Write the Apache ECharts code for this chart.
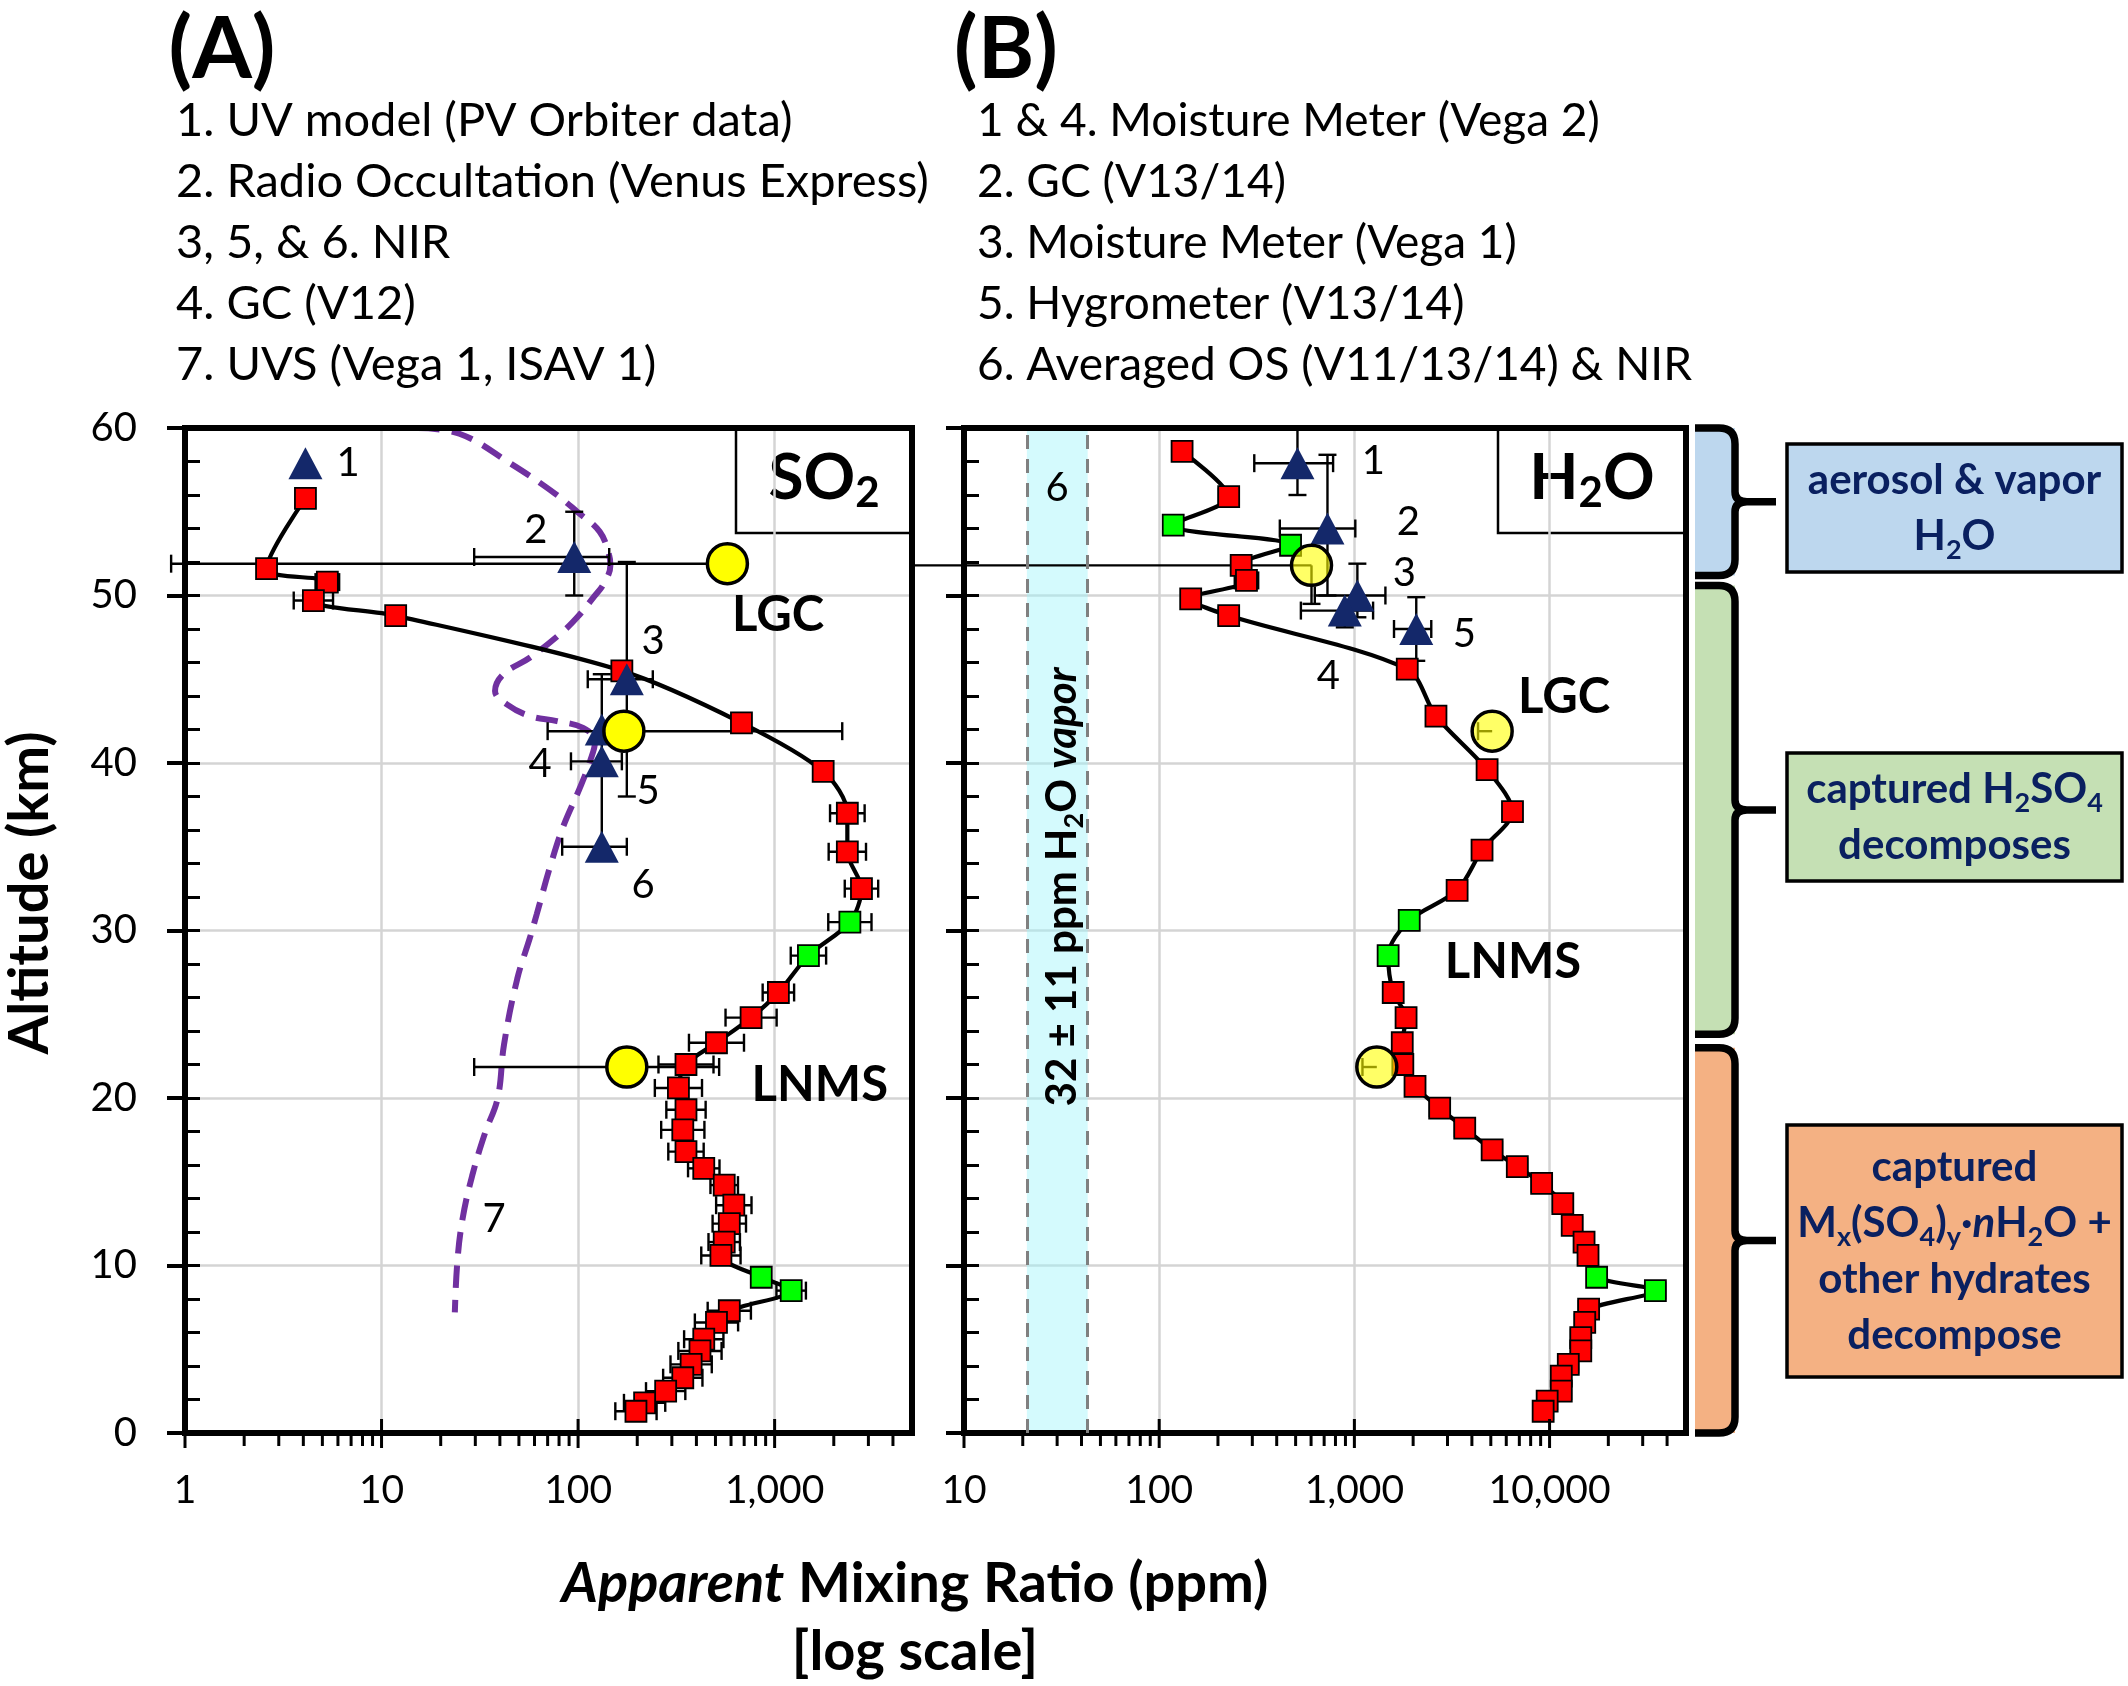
<!DOCTYPE html>
<html>
<head>
<meta charset="utf-8">
<script src="https://cdn.jsdelivr.net/npm/echarts@6.0.0/dist/echarts.min.js"></script>
<style>
html,body{margin:0;padding:0;background:#ffffff;}
#chart{width:2128px;height:1686px;}
</style>
</head>
<body>
<div id="chart"></div>
<script>
// ================= DATA =================
// Panel A : SO2 apparent mixing ratio (ppm) vs altitude (km)
const so2Alt = [55.8, 51.6, 50.8, 49.7, 48.8, 45.5, 42.4, 39.5, 37.0, 34.7,
                32.5, 30.5, 28.5, 26.3, 24.8, 23.3, 22.0, 20.6, 19.3, 18.1,
                16.8, 15.8, 14.8, 13.6, 12.5, 11.4, 10.6, 9.3, 8.5, 7.3,
                6.6, 5.6, 4.9, 4.1, 3.3, 2.5, 1.8, 1.3];
const so2Ppm = [4.1, 2.6, 5.3, 4.5, 11.8, 167, 678, 1766, 2344, 2344,
                2766, 2415, 1486, 1045, 759, 506, 354, 324, 354, 341,
                354, 436, 554, 620, 588, 554, 533, 855, 1214, 588,
                506, 436, 417, 376, 341, 279, 218, 197];
// error bar half-width (decades)
const so2Err = [0, 0, 0.06, 0.1, 0.03, 0.04, 0.03, 0.03, 0.088, 0.095,
                0.085, 0.11, 0.09, 0.08, 0.13, 0.14, 0.14, 0.12, 0.1, 0.11,
                0.09, 0.08, 0.07, 0.09, 0.085, 0.08, 0.1, 0.04, 0.075, 0.11,
                0.11, 0.1, 0.11, 0.105, 0.1, 0.1, 0.105, 0.105];
const so2Green = [11, 12, 27, 28];

// Panel A : other measurements (blue triangles, labelled 1-6)
const so2TriPpm = [4.1, 95.6, 177, 132, 132, 132];
const so2TriAlt = [57.9, 52.3, 45.0, 42.0, 40.1, 35.0];
const so2TriXlo = [null, 29.6, 112, null, 92, 83];
const so2TriXhi = [null, 144, 240, null, 167, 177];
const so2TriYlo = [null, 50, 38, null, null, 35];
const so2TriYhi = [null, 55, 52, null, null, 45.3];

// Panel A : LGC / LNMS yellow circles
const so2CirPpm = [575, 171, 177];
const so2CirAlt = [51.9, 41.9, 21.85];
const so2CirXlo = [0.85, 70, 29.6];
const so2CirXhi = [575, 2208, 522];

// Panel A : UVS (Vega 1, ISAV 1) profile, curve 7
const so2UvsPpm = [15.3, 24.9, 45, 76, 99, 129, 144, 146, 135, 120, 99, 81, 57, 41.7, 37.8, 43.4, 57, 78, 106, 122, 115, 102, 84, 72, 61.7, 57, 49, 42, 39, 33.6, 28.9, 25.8, 24.3, 23.6];
const so2UvsAlt = [60, 59.66, 57.9, 56.1, 55.0, 53.8, 52.4, 51.8, 50.7, 49.9, 48.7, 47.7, 46.3, 45.3, 44.3, 43.5, 42.8, 42.5, 42.1, 41.3, 40.1, 38.5, 36.2, 33.8, 31.0, 29.6, 27.1, 23.2, 20, 17.9, 15.35, 12.74, 10.2, 7.2];

// Panel A labels
const so2LabTxt = ['1', '2', '3', '4', '5', '6', '7'];
const so2LabPpm = [6.75, 61, 241, 64, 227, 214, 37.4];
const so2LabAlt = [57.9, 53.9, 47.3, 39.95, 38.3, 32.7, 12.75];
const so2BoldTxt = ['LGC', 'LNMS'];
const so2BoldPpm = [1042, 1698];
const so2BoldAlt = [48.8, 20.75];

// Panel B : H2O
const h2oAlt = [58.6, 55.9, 54.2, 53.0, 51.8, 50.9, 49.8, 48.8, 45.6, 42.8,
                39.6, 37.1, 34.8, 32.4, 30.6, 28.5, 26.3, 24.8, 23.3, 22.0,
                20.7, 19.4, 18.2, 16.9, 15.9, 14.9, 13.7, 12.4, 11.4, 10.6,
                9.3, 8.5, 7.4, 6.6, 5.7, 4.9, 4.1, 3.4, 2.5, 1.9, 1.3];
const h2oPpm = [131, 227, 118, 471, 263, 280, 145, 227, 1866, 2618,
                4786, 6457, 4508, 3360, 1910, 1489, 1581, 1840, 1759, 1771,
                2045, 2735, 3676, 5079, 6834, 9106, 11690, 13060, 15020, 15740,
                17420, 34840, 15850, 15140, 14450, 14450, 12470, 11480, 11480, 9720, 9270];
const h2oErr = [0.03, 0.05, 0.03, 0.03, 0.03, 0.06, 0.03, 0.05, 0.03, 0.03,
                0.03, 0.04, 0.04, 0.03, 0.03, 0.03, 0.04, 0.04, 0.04, 0.04,
                0.05, 0.05, 0.05, 0.05, 0.05, 0.05, 0.05, 0.05, 0.05, 0.05,
                0.03, 0.05, 0.05, 0.05, 0.05, 0.05, 0.05, 0.05, 0.05, 0.05, 0.05];
const h2oGreen = [2, 3, 14, 15, 30, 31];

const h2oTriPpm = [511, 728, 1036, 893, 2075];
const h2oTriAlt = [57.9, 54.0, 50.0, 49.1, 48.0];
const h2oTriXlo = [307, 415, 627, 532, 1596];
const h2oTriXhi = [778, 1011, 1442, 1247, 2477];
const h2oTriYlo = [56.0, 50.0, 48.7, 48.1, 46.1];
const h2oTriYhi = [60, 58.4, 51.9, null, 49.9];

const h2oCirPpm = [603, 5080, 1303];
const h2oCirAlt = [51.8, 41.9, 21.85];
const h2oCirXlo = [5.4, 4300, 1100];
const h2oCirXhi = [603, 5080, 1303];
const h2oCirYlo = [49.5, null, null];

const h2oLabTxt = ['1', '2', '3', '4', '5', '6'];
const h2oLabPpm = [1251, 1888, 1803, 736, 3656, 30];
const h2oLabAlt = [58.0, 54.4, 51.35, 45.2, 47.7, 56.4];
const h2oBoldTxt = ['LGC', 'LNMS'];
const h2oBoldPpm = [11860, 6500];
const h2oBoldAlt = [43.9, 28.1];

// averaged vapor band (32 ± 11 ppm)
const vaporMean = 32, vaporSd = 11;
const vaporLabelAlt = 32.6;

// brace ranges (km)
const braceLo = [51.2, 23.8, 0];
const braceHi = [60, 50.6, 23.0];

const listA = ['1. UV model (PV Orbiter data)', '2. Radio Occultation (Venus Express)', '3, 5, & 6. NIR', '4. GC (V12)', '7. UVS (Vega 1, ISAV 1)'];
const listB = ['1 & 4. Moisture Meter (Vega 2)', '2. GC (V13/14)', '3. Moisture Meter (Vega 1)', '5. Hygrometer (V13/14)', '6. Averaged OS (V11/13/14) & NIR'];

// ================= STYLE / HELPERS =================
const FONT = 'Lato';
const RED = '#ff0000', GREEN = '#00ff00', NAVY = '#14286a', YELLOW = '#ffff00', PURPLE = '#7030a0';
const GRIDC = '#d4d4d4';
const braceColors = ['#bdd7ee', '#c5e0b4', '#f4b183'];

function xTicks(min, max) {
  const t = [];
  for (let d = min; d < max; d *= 10) {
    t.push([d, 0, 1]);
    for (let k = 2; k <= 9; k++) if (k * d < max) t.push([k * d, 0, 0]);
  }
  return t;
}

function errChildren(api, x, y, xlo, xhi, ylo, yhi) {
  const ch = [];
  const st = {stroke: '#000', lineWidth: 2.4};
  const cap = 9;
  if (xlo != null && xhi != null && (xlo !== x || xhi !== x)) {
    const a = api.coord([xlo, y]), b = api.coord([xhi, y]);
    ch.push({type: 'line', shape: {x1: a[0], y1: a[1], x2: b[0], y2: b[1]}, style: st});
    if (xlo !== x) ch.push({type: 'line', shape: {x1: a[0], y1: a[1] - cap, x2: a[0], y2: a[1] + cap}, style: st});
    if (xhi !== x) ch.push({type: 'line', shape: {x1: b[0], y1: b[1] - cap, x2: b[0], y2: b[1] + cap}, style: st});
  }
  if (ylo != null || yhi != null) {
    const lo = ylo == null ? y : ylo, hi = yhi == null ? y : yhi;
    const a = api.coord([x, lo]), b = api.coord([x, hi]);
    ch.push({type: 'line', shape: {x1: a[0], y1: a[1], x2: b[0], y2: b[1]}, style: st});
    if (ylo != null && ylo !== y) ch.push({type: 'line', shape: {x1: a[0] - cap, y1: a[1], x2: a[0] + cap, y2: a[1]}, style: st});
    if (yhi != null && yhi !== y) ch.push({type: 'line', shape: {x1: b[0] - cap, y1: b[1], x2: b[0] + cap, y2: b[1]}, style: st});
  }
  return ch;
}

function errSeries(xi, yi, xs, ys, xlo, xhi, ylo, yhi, z) {
  return {
    type: 'custom', xAxisIndex: xi, yAxisIndex: yi, z: z || 3, silent: true,
    data: xs.map((v, i) => [v, ys[i]]),
    renderItem: (p, api) => {
      const i = p.dataIndex;
      return {type: 'group', children: errChildren(api, xs[i], ys[i],
        xlo ? xlo[i] : null, xhi ? xhi[i] : null, ylo ? ylo[i] : null, yhi ? yhi[i] : null)};
    }
  };
}

function squareErrSeries(xi, yi, ppm, alt, err) {
  const lo = ppm.map((v, i) => err[i] ? v / Math.pow(10, err[i]) : null);
  const hi = ppm.map((v, i) => err[i] ? v * Math.pow(10, err[i]) : null);
  return errSeries(xi, yi, ppm, alt, lo, hi, null, null, 3);
}

function squareSeries(xi, yi, ppm, alt, green) {
  return {
    type: 'scatter', xAxisIndex: xi, yAxisIndex: yi, z: 4, silent: true,
    symbol: 'rect', symbolSize: 21,
    data: ppm.map((v, i) => ({value: [v, alt[i]], itemStyle: {color: green.indexOf(i) >= 0 ? GREEN : RED}})),
    itemStyle: {borderColor: '#000', borderWidth: 1.8, opacity: 1}
  };
}

function textSeries(xi, yi, xs, ys, texts, font) {
  return {
    type: 'custom', xAxisIndex: xi, yAxisIndex: yi, z: 7, silent: true,
    data: xs.map((v, i) => [v, ys[i]]),
    renderItem: (p, api) => {
      const c = api.coord([api.value(0), api.value(1)]);
      return {type: 'text', x: c[0], y: c[1], style: {text: texts[p.dataIndex], font: font, fill: '#000',
        align: 'center', verticalAlign: 'middle', textAlign: 'center', textVerticalAlign: 'middle'}};
    }
  };
}

function tickSeries(xi, yi, ticks) {
  return {
    type: 'custom', xAxisIndex: xi, yAxisIndex: yi, z: 8, silent: true, data: ticks,
    renderItem: (p, api) => {
      const c = api.coord([api.value(0), 0]);
      const major = api.value(2) === 1;
      return {type: 'line', shape: {x1: c[0], y1: c[1] - (major ? 14 : 0), x2: c[0], y2: c[1] + (major ? 15 : 13)},
        style: {stroke: '#000', lineWidth: 3}};
    }
  };
}

function borderSeries(xi, yi, x0) {
  return {
    type: 'custom', xAxisIndex: xi, yAxisIndex: yi, z: 3, silent: true, data: [[x0, 0]],
    renderItem: (p) => {
      const cs = p.coordSys;
      return {type: 'rect', shape: {x: cs.x, y: cs.y, width: cs.width, height: cs.height},
        style: {fill: 'transparent', stroke: '#000', lineWidth: 6}};
    }
  };
}

function mainLine(xi, yi, ppm, alt) {
  return {type: 'line', xAxisIndex: xi, yAxisIndex: yi, z: 2, silent: true,
    data: ppm.map((v, i) => [v, alt[i]]), smooth: 0.3, symbol: 'none',
    lineStyle: {color: '#000', width: 4.2}};
}

function xFmt(v) {
  const l = Math.log10(v);
  return Math.abs(l - Math.round(l)) < 1e-6 ? Math.round(v).toLocaleString('en-US') : '';
}

function xAxisDef(gi, min, max) {
  return {gridIndex: gi, type: 'log', logBase: 10, min: min, max: max,
    axisLine: {show: true, lineStyle: {color: '#000', width: 6}},
    axisTick: {show: false},
    axisLabel: {formatter: xFmt, margin: 38, fontSize: 39, fontFamily: FONT, color: '#000', showMaxLabel: false},
    splitLine: {show: true, lineStyle: {color: GRIDC, width: 2.5}},
    minorTick: {show: false}, minorSplitLine: {show: false}};
}
function yMajor(gi, showLabel) {
  return {gridIndex: gi, type: 'value', min: 0, max: 60, interval: 10, position: 'left',
    axisLine: {show: true, lineStyle: {color: '#000', width: 6}},
    axisTick: {show: true, inside: false, length: 18, lineStyle: {color: '#000', width: 4}},
    axisLabel: {show: showLabel, margin: 48, fontSize: 40, fontFamily: FONT, color: '#000'},
    splitLine: {show: true, lineStyle: {color: GRIDC, width: 2.5}}};
}
function yMinor(gi) {
  return {gridIndex: gi, type: 'value', min: 0, max: 60, interval: 2, position: 'left', offset: 0,
    axisLine: {show: false},
    axisTick: {show: true, inside: true, length: 15, lineStyle: {color: '#000', width: 3}},
    axisLabel: {show: false}, splitLine: {show: false}};
}

const chart = echarts.init(document.getElementById('chart'), null, {renderer: 'canvas', width: 2128, height: 1686});

const vaporLo = vaporMean - vaporSd, vaporHi = vaporMean + vaporSd;

function triSeries(xi, yi, ppm, alt) {
  return {type: 'scatter', xAxisIndex: xi, yAxisIndex: yi, z: 5, silent: true, symbol: 'triangle', symbolSize: [34, 32],
    data: ppm.map((v, i) => [v, alt[i]]), itemStyle: {color: NAVY, opacity: 1}};
}
function cirSeries(xi, yi, ppm, alt, fill) {
  return {type: 'scatter', xAxisIndex: xi, yAxisIndex: yi, z: 5, silent: true, symbol: 'circle', symbolSize: 40,
    data: ppm.map((v, i) => [v, alt[i]]), itemStyle: {color: fill, borderColor: '#000', borderWidth: 3.5, opacity: 1}};
}

const series = [
  // ---------- Panel A ----------
  {type: 'line', xAxisIndex: 0, yAxisIndex: 0, z: 2, silent: true,
    data: so2UvsPpm.map((v, i) => [v, so2UvsAlt[i]]), smooth: 0.4, symbol: 'none',
    lineStyle: {color: PURPLE, width: 6, type: [22, 12]}},
  borderSeries(0, 0, 1),
  mainLine(0, 0, so2Ppm, so2Alt),
  squareErrSeries(0, 0, so2Ppm, so2Alt, so2Err),
  squareSeries(0, 0, so2Ppm, so2Alt, so2Green),
  errSeries(0, 0, so2TriPpm, so2TriAlt, so2TriXlo, so2TriXhi, so2TriYlo, so2TriYhi, 3),
  errSeries(0, 0, so2CirPpm, so2CirAlt, so2CirXlo, so2CirXhi, null, null, 3),
  triSeries(0, 0, so2TriPpm, so2TriAlt),
  cirSeries(0, 0, so2CirPpm, so2CirAlt, YELLOW),
  textSeries(0, 0, so2LabPpm, so2LabAlt, so2LabTxt, '40px ' + FONT),
  textSeries(0, 0, so2BoldPpm, so2BoldAlt, so2BoldTxt, 'bold 49px ' + FONT),
  tickSeries(0, 0, xTicks(1, 5000)),

  // ---------- Panel B ----------
  {type: 'line', xAxisIndex: 1, yAxisIndex: 2, z: 1, silent: true, data: [], symbol: 'none',
    markArea: {silent: true, itemStyle: {color: 'rgba(160,243,250,0.45)'},
      data: [[{coord: [vaporLo, 0]}, {coord: [vaporHi, 60]}]]},
    markLine: {silent: true, symbol: 'none', label: {show: false},
      lineStyle: {color: '#808080', width: 3, type: [14, 10]},
      data: [{xAxis: vaporLo}, {xAxis: vaporHi}]}},
  borderSeries(1, 2, 10),
  mainLine(1, 2, h2oPpm, h2oAlt),
  squareErrSeries(1, 2, h2oPpm, h2oAlt, h2oErr),
  errSeries(1, 2, h2oTriPpm, h2oTriAlt, h2oTriXlo, h2oTriXhi, h2oTriYlo, h2oTriYhi, 3),
  errSeries(1, 2, h2oCirPpm, h2oCirAlt, h2oCirXlo, h2oCirXhi, h2oCirYlo, null, 3),
  squareSeries(1, 2, h2oPpm, h2oAlt, h2oGreen),
  triSeries(1, 2, h2oTriPpm, h2oTriAlt),
  cirSeries(1, 2, h2oCirPpm, h2oCirAlt, 'rgba(255,255,0,0.6)'),
  textSeries(1, 2, h2oLabPpm, h2oLabAlt, h2oLabTxt, '40px ' + FONT),
  textSeries(1, 2, h2oBoldPpm, h2oBoldAlt, h2oBoldTxt, 'bold 49px ' + FONT),
  tickSeries(1, 2, xTicks(10, 50000)),
  // vertical band label
  {type: 'custom', xAxisIndex: 1, yAxisIndex: 2, z: 7, silent: true, data: [[vaporMean, vaporLabelAlt]],
    renderItem: (p, api) => {
      const c = api.coord([api.value(0), api.value(1)]);
      return {type: 'text', x: c[0], y: c[1], rotation: Math.PI / 2,
        style: {text: vaporMean + ' ± ' + vaporSd + ' ppm H{s|2}O {i|vapor}',
          fontFamily: FONT, fontWeight: 'bold', fontSize: 42, fill: '#000', lineHeight: 50,
          align: 'center', verticalAlign: 'middle',
          rich: {s: {fontFamily: FONT, fontWeight: 'bold', fontSize: 27, fill: '#000', lineHeight: 33, verticalAlign: 'bottom'},
                 i: {fontFamily: FONT, fontWeight: 'bold', fontStyle: 'italic', fontSize: 42, fill: '#000', lineHeight: 50}}}};
    }},
  // braces
  {type: 'custom', xAxisIndex: 1, yAxisIndex: 2, z: 6, silent: true,
    data: braceLo.map((lo, i) => [10, lo, braceHi[i]]),
    renderItem: (p, api) => {
      const cs = p.coordSys;
      const gx = cs.x + cs.width;
      const top = api.coord([10, api.value(2)])[1];
      const bot = api.coord([10, api.value(1)])[1];
      const mid = (top + bot) / 2;
      const x0 = gx + 9, x1 = gx + 49, xt = gx + 90, r = 16;
      return {type: 'group', children: [
        {type: 'rect', shape: {x: x0, y: top, width: x1 - x0, height: bot - top}, style: {fill: braceColors[p.dataIndex]}},
        {type: 'path', shape: {pathData:
          'M' + x0 + ' ' + top + ' L' + (x1 - r) + ' ' + top + ' Q' + x1 + ' ' + top + ' ' + x1 + ' ' + (top + r) +
          ' L' + x1 + ' ' + (mid - 10) + ' Q' + x1 + ' ' + mid + ' ' + (x1 + 12) + ' ' + mid + ' L' + xt + ' ' + mid +
          ' M' + (x1 + 12) + ' ' + mid + ' Q' + x1 + ' ' + mid + ' ' + x1 + ' ' + (mid + 10) +
          ' L' + x1 + ' ' + (bot - r) + ' Q' + x1 + ' ' + bot + ' ' + (x1 - r) + ' ' + bot + ' L' + x0 + ' ' + bot},
          style: {fill: 'transparent', stroke: '#000', lineWidth: 7.5}}
      ]};
    }}
];

function gtext(x, y, text, font) {
  return {type: 'text', silent: true, x: x, y: y,
    style: {text: text, font: font, fill: '#000', align: 'left', verticalAlign: 'middle', textAlign: 'left', textVerticalAlign: 'middle'}};
}

const graphics = [];
graphics.push({type: 'text', silent: true, x: 222, y: 50, style: {text: '(A)', font: 'bold 86px ' + FONT, fill: '#000', align: 'center', verticalAlign: 'middle'}});
graphics.push({type: 'text', silent: true, x: 1006, y: 50, style: {text: '(B)', font: 'bold 86px ' + FONT, fill: '#000', align: 'center', verticalAlign: 'middle'}});
const listY = [121, 182, 243, 304, 365];
listA.forEach((t, i) => graphics.push(gtext(176, listY[i], t, '47px ' + FONT)));
listB.forEach((t, i) => graphics.push(gtext(977, listY[i], t, '46px ' + FONT)));

// axis titles
graphics.push({type: 'text', silent: true, x: 30, y: 893, rotation: Math.PI / 2,
  style: {text: 'Altitude (km)', font: 'bold 56px ' + FONT, fill: '#000', align: 'center', verticalAlign: 'middle'}});
graphics.push({type: 'text', silent: true, x: 915, y: 1584,
  style: {text: '{i|Apparent} Mixing Ratio (ppm)', fontFamily: FONT, fontWeight: 'bold', fontSize: 56, fill: '#000',
    align: 'center', verticalAlign: 'middle',
    rich: {i: {fontFamily: FONT, fontWeight: 'bold', fontStyle: 'italic', fontSize: 56, fill: '#000'}}}});
graphics.push({type: 'text', silent: true, x: 915, y: 1652,
  style: {text: '[log scale]', font: 'bold 56px ' + FONT, fill: '#000', align: 'center', verticalAlign: 'middle'}});

// species boxes
function speciesBox(x, y, w, h, text) {
  return {type: 'group', silent: true, children: [
    {type: 'rect', shape: {x: x, y: y, width: w, height: h}, style: {fill: 'transparent', stroke: '#000', lineWidth: 2.5}},
    {type: 'text', x: x + w / 2, y: y + h / 2 - 2, style: {text: text, fontFamily: FONT, fontWeight: 'bold', fontSize: 64, fill: '#000',
      lineHeight: 72, align: 'center', verticalAlign: 'middle',
      rich: {s: {fontFamily: FONT, fontWeight: 'bold', fontSize: 42, fill: '#000', lineHeight: 48, verticalAlign: 'bottom'}}}}
  ]};
}
graphics.push(speciesBox(736, 428, 176, 105, 'SO{s|2}'));
graphics.push(speciesBox(1498, 428, 188, 105, 'H{s|2}O'));

// description boxes
const NAVYTXT = '#0a2060';
const richBox = {
  s: {fontFamily: FONT, fontWeight: 'bold', fontSize: 27, fill: NAVYTXT, lineHeight: 34, verticalAlign: 'bottom'},
  i: {fontFamily: FONT, fontWeight: 'bold', fontStyle: 'italic', fontSize: 42, fill: NAVYTXT, lineHeight: 56}
};
function descBox(x, y, w, h, color, text) {
  return {type: 'group', silent: true, children: [
    {type: 'rect', shape: {x: x, y: y, width: w, height: h}, style: {fill: color, stroke: '#000', lineWidth: 3.5}},
    {type: 'text', x: x + w / 2, y: y + h / 2, style: {text: text, fontFamily: FONT, fontWeight: 'bold', fontSize: 42, fill: NAVYTXT,
      lineHeight: 56, align: 'center', verticalAlign: 'middle', rich: richBox}}
  ]};
}
graphics.push(descBox(1787, 444, 335, 128, braceColors[0], 'aerosol & vapor\nH{s|2}O'));
graphics.push(descBox(1787, 753, 335, 128, braceColors[1], 'captured H{s|2}SO{s|4}\ndecomposes'));
graphics.push(descBox(1787, 1125, 335, 252, braceColors[2], 'captured\nM{s|x}(SO{s|4}){s|y}·{i|n}H{s|2}O +\nother hydrates\ndecompose'));

const option = {
  backgroundColor: '#ffffff',
  animation: false,
  textStyle: {fontFamily: FONT, color: '#000'},
  grid: [
    {left: 185, top: 428, width: 727, height: 1005, containLabel: false, outerBoundsMode: 'none', show: false},
    {left: 964, top: 428, width: 722, height: 1005, containLabel: false, outerBoundsMode: 'none', show: false}
  ],
  xAxis: [xAxisDef(0, 1, 5000), xAxisDef(1, 10, 50000)],
  yAxis: [yMajor(0, true), yMinor(0), yMajor(1, false), yMinor(1)],
  series: series,
  graphic: {elements: graphics}
};
chart.setOption(option);
</script>
</body>
</html>
